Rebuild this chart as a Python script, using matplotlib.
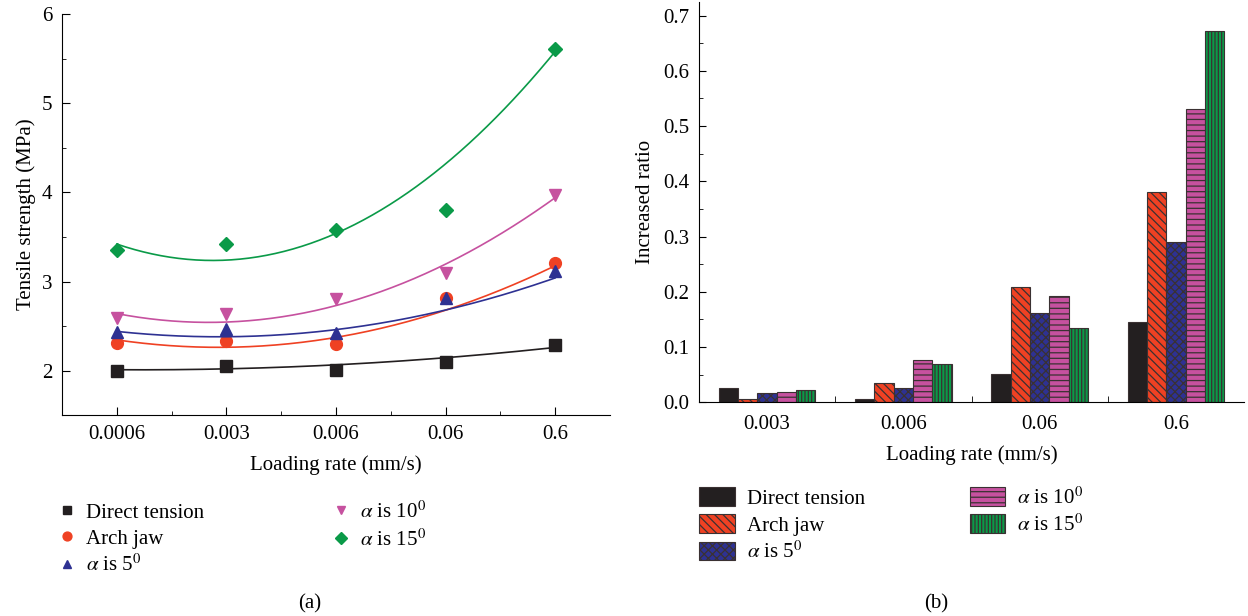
import numpy as np
import matplotlib
matplotlib.use("Agg")
import matplotlib.pyplot as plt
from matplotlib.ticker import MultipleLocator, FixedLocator

plt.rcParams['font.family'] = ['Liberation Serif', 'DejaVu Serif']
plt.rcParams['mathtext.fontset'] = 'stix'
plt.rcParams['hatch.linewidth'] = 0.9

# data
rates_a = ["0.0006", "0.003", "0.006", "0.06", "0.6"]
rates_b = ["0.003", "0.006", "0.06", "0.6"]
names = ["Direct tension", "Arch jaw", r"$\alpha$ is 5$^0$", r"$\alpha$ is 10$^0$", r"$\alpha$ is 15$^0$"]

direct = [2.00, 2.05, 2.01, 2.10, 2.29]
arch = [2.31, 2.33, 2.30, 2.81, 3.21]
a5 = [2.43, 2.47, 2.42, 2.81, 3.12]
a10 = [2.59, 2.64, 2.80, 3.09, 3.97]
a15 = [3.35, 3.42, 3.58, 3.80, 5.61]

# quadratic fit curves as drawn (coefficients a, b, c in index units)
fit_direct = [0.0175, -0.0075, 2.01]
fit_arch = [0.097, -0.18, 2.345]
fit_a5 = [0.07, -0.13, 2.44]
fit_a10 = [0.14, -0.235, 2.64]
fit_a15 = [0.24, -0.42, 3.42]

# increased ratio
ratio_direct = [0.025, 0.006, 0.051, 0.145]
ratio_arch = [0.005, 0.034, 0.208, 0.380]
ratio_a5 = [0.0175, 0.025, 0.162, 0.291]
ratio_a10 = [0.019, 0.077, 0.193, 0.531]
ratio_a15 = [0.022, 0.069, 0.134, 0.672]

colors = ["#231f20", "#ef4123", "#2e3192", "#c6519f", "#0a9a48"]
markers = ["s", "o", "^", "v", "D"]
hatches = [None, "\\\\\\\\", "xxxx", "---", "|||||"]
fs = 15

fig = plt.figure(figsize=(12.48, 6.16), dpi=100)

# ---- (a) tensile strength ----
ax1 = fig.add_axes([0.0497, 0.326, 0.439, 0.651])
xa = np.arange(len(rates_a))
xs = np.linspace(0, 4, 200)
series = [direct, arch, a5, a10, a15]
fits = [fit_direct, fit_arch, fit_a5, fit_a10, fit_a15]
for ys, fit, c, m, n in zip(series, fits, colors, markers, names):
    ax1.plot(xs, np.polyval(fit, xs), color=c, linewidth=1.2)
    ms = 7.5 if m == "D" else 8.5
    ax1.plot(xa, ys, linestyle="none", marker=m, color=c, markersize=ms, label=n)

ax1.set_xlim(-0.5, 4.5)
ax1.set_ylim(1.5, 6)
ax1.set_xticks(xa)
ax1.set_xticklabels(rates_a)
ax1.xaxis.set_minor_locator(FixedLocator([0.5, 1.5, 2.5, 3.5]))
ax1.yaxis.set_minor_locator(MultipleLocator(0.5))
ax1.set_yticks([2, 3, 4, 5, 6])
ax1.set_xlabel("Loading rate (mm/s)", fontsize=fs, labelpad=8)
ax1.set_ylabel("Tensile strength (MPa)", fontsize=fs, labelpad=4)
ax1.spines["top"].set_visible(False)
ax1.spines["right"].set_visible(False)
ax1.tick_params(which="both", direction="in", labelsize=fs)
ax1.tick_params(which="major", length=6, pad=7)
ax1.tick_params(which="minor", length=3)
ax1.legend(loc="upper left", bbox_to_anchor=(0.037, 0.203), bbox_transform=fig.transFigure,
           ncol=2, frameon=False, fontsize=fs, handlelength=1.0, handletextpad=0.4,
           labelspacing=0.3, columnspacing=6.1, borderpad=0, markerscale=0.75)
fig.text(0.248, 0.012, "(a)", fontsize=fs, ha="center")

# ---- (b) increased ratio ----
ax2 = fig.add_axes([0.560, 0.347, 0.437, 0.650])
xb = np.arange(len(rates_b))
w = 0.142
ratios = [ratio_direct, ratio_arch, ratio_a5, ratio_a10, ratio_a15]
for i, (vals, c, h, n) in enumerate(zip(ratios, colors, hatches, names)):
    ax2.bar(xb + (i - 2) * w, vals, width=w, color=c, edgecolor="#3a3132",
            linewidth=0.8, hatch=h, label=n)

ax2.set_xlim(-0.5, 3.5)
ax2.set_ylim(0, 0.725)
ax2.set_xticks(xb)
ax2.set_xticklabels(rates_b)
ax2.xaxis.set_minor_locator(FixedLocator([0.5, 1.5, 2.5]))
ax2.yaxis.set_major_locator(MultipleLocator(0.1))
ax2.yaxis.set_minor_locator(MultipleLocator(0.05))
ax2.yaxis.set_major_formatter(matplotlib.ticker.FormatStrFormatter("%.1f"))
ax2.set_xlabel("Loading rate (mm/s)", fontsize=fs, labelpad=8)
ax2.set_ylabel("Increased ratio", fontsize=fs, labelpad=6)
ax2.spines["top"].set_visible(False)
ax2.spines["right"].set_visible(False)
ax2.tick_params(which="both", direction="in", labelsize=fs)
ax2.tick_params(axis="y", which="major", length=5, pad=7)
ax2.tick_params(axis="y", which="minor", length=3)
ax2.tick_params(axis="x", which="major", length=0, pad=9)
ax2.tick_params(axis="x", which="minor", length=4)
ax2.legend(loc="upper left", bbox_to_anchor=(0.552, 0.226), bbox_transform=fig.transFigure,
           ncol=2, frameon=False, fontsize=fs, handlelength=1.7, handleheight=1.0,
           handletextpad=0.6, labelspacing=0.28, columnspacing=5.0, borderpad=0)
fig.text(0.75, 0.012, "(b)", fontsize=fs, ha="center")

fig.savefig("out.png", dpi=100)
